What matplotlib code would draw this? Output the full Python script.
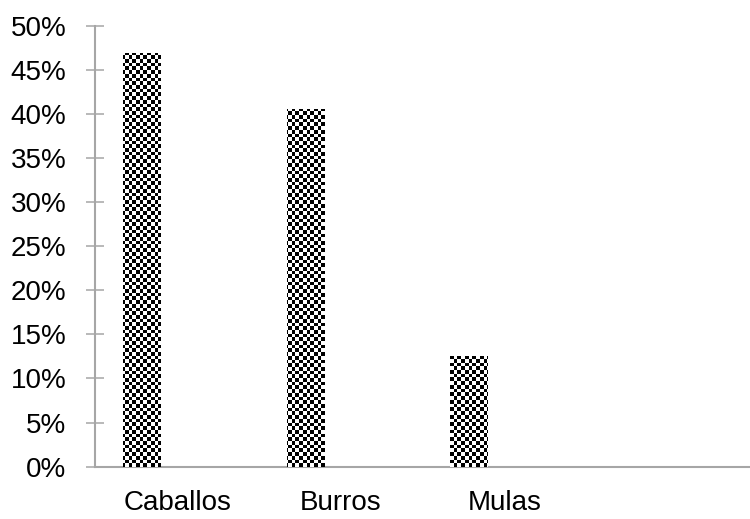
import numpy as np
import matplotlib
matplotlib.use("Agg")
import matplotlib.pyplot as plt
from matplotlib.ticker import FuncFormatter

# porcentaje de animales por especie
especies = ["Caballos", "Burros", "Mulas"]
porcentajes = [46.9, 40.6, 12.5]

plt.rcParams["font.family"] = ["Liberation Sans Narrow", "Liberation Sans", "DejaVu Sans"]

gris = "#a6a6a6"
n_slots = 4          # la grafica reserva un espacio vacio al final
ancho = 0.23
desfase = -0.215

fig = plt.figure(figsize=(7.5, 5.19), dpi=100)
ax = fig.add_axes([0.127, 0.101, 0.873, 0.849])

xs = np.arange(len(especies)) + desfase
barras = ax.bar(xs, porcentajes, width=ancho, color="white", edgecolor="none", zorder=2)

# relleno a cuadros: un tablero recortado con la forma de cada barra
xlim = (-0.5, n_slots - 0.5)
ylim = (0, 50)
filas, cols = 119, 177
tablero = np.add.outer(np.arange(filas), np.arange(cols)) % 2
for b in barras:
    im = ax.imshow(tablero, extent=(*xlim, *ylim), cmap="gray_r", vmin=0, vmax=1,
                   interpolation="nearest", aspect="auto", zorder=3, origin="lower")
    im.set_clip_path(b)

ax.set_xlim(*xlim)
ax.set_ylim(*ylim)

ax.set_yticks(np.arange(0, 51, 5))
ax.yaxis.set_major_formatter(FuncFormatter(lambda v, p: f"{v:.0f}%"))
ax.set_xticks(np.arange(len(especies)))
ax.set_xticklabels(especies)

for s in ["top", "right"]:
    ax.spines[s].set_visible(False)
for s in ["left", "bottom"]:
    ax.spines[s].set_color(gris)
    ax.spines[s].set_linewidth(1.5)

ax.tick_params(axis="y", direction="inout", length=13.5, width=1.1, color=gris,
               labelsize=20, pad=14)
ax.tick_params(axis="x", length=0, labelsize=20, pad=17)

fig.savefig("out.png", dpi=100)
